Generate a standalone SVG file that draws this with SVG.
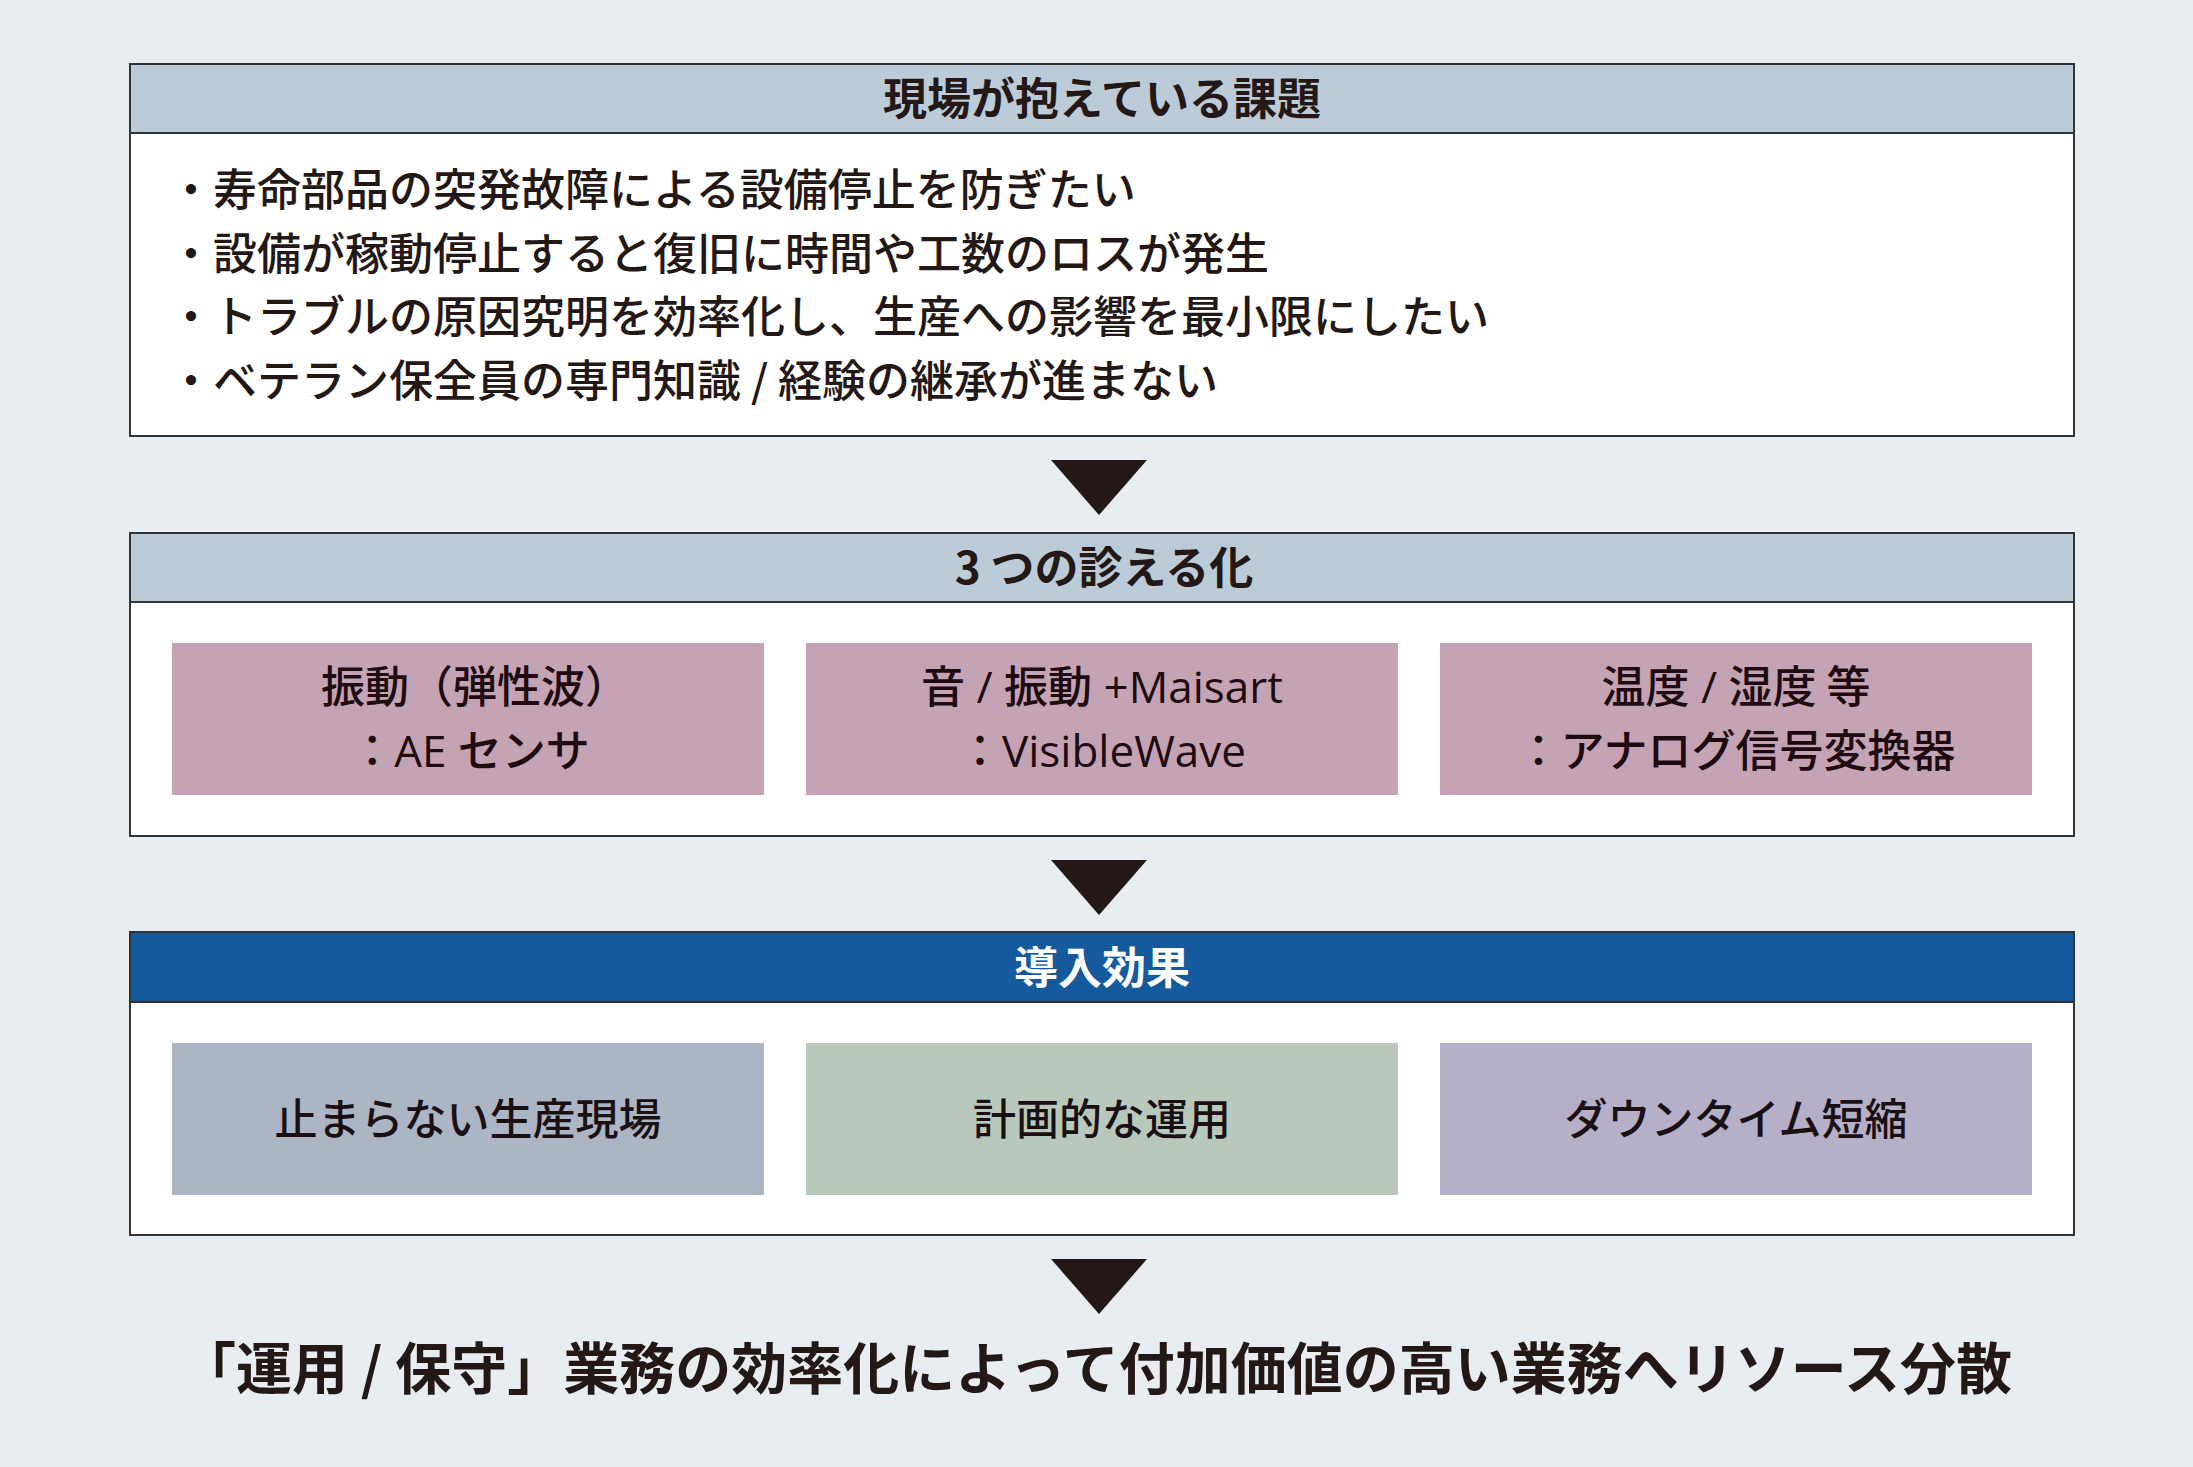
<svg xmlns="http://www.w3.org/2000/svg" width="2193" height="1467" viewBox="0 0 2193 1467">
<style>
.panel{fill:#ffffff;stroke:#333333;stroke-width:2}
.hdr{fill:#bccbd8;stroke:#333333;stroke-width:2}
.hdr2{fill:#155a9c;stroke:#333333;stroke-width:2}
.t{font-family:"Noto Sans CJK JP","Noto Sans",sans-serif;fill:#231815}
.h{font-size:44px;font-weight:700;text-anchor:middle}
.b{font-size:44px;font-weight:500}
.c{font-size:44px;font-weight:500;text-anchor:middle;fill:#1e0a10}
.lat{font-family:"Open Sans","Noto Sans",sans-serif;font-weight:500}
.e{font-size:43px;font-weight:500;text-anchor:middle;fill:#1a1014}
.pink{fill:#c4a4b4}
.arrow{fill:#231815}
</style>
<rect x="0" y="0" width="2193" height="1467" fill="#e8edf2"/>

<g id="node-issues">
<rect class="panel" x="130" y="64" width="1944" height="372"/>
<rect class="hdr" x="130" y="64" width="1944" height="69"/>
<text class="t h" x="1102" y="115">現場が抱えている課題</text>
<text class="t b" x="169" y="206">・寿命部品の突発故障による設備停止を防ぎたい</text>
<text class="t b" x="169" y="270">・設備が稼動停止すると復旧に時間や工数のロスが発生</text>
<text class="t b" x="169" y="333">・トラブルの原因究明を効率化し、生産への影響を最小限にしたい</text>
<text class="t b" x="169" y="397">・ベテラン保全員の専門知識 / 経験の継承が進まない</text>
</g>

<g id="node-visualize">
<rect class="panel" x="130" y="533" width="1944" height="303"/>
<rect class="hdr" x="130" y="533" width="1944" height="69"/>
<text class="t h" x="1104" y="584">3 つの診える化</text>
<g id="node-ae">
<rect class="pink" x="172" y="643" width="592" height="152"/>
<text class="t c" x="475" y="703">振動（弾性波）</text>
<text class="t c" x="470" y="767">：<tspan class="lat">AE </tspan>センサ</text>
</g>
<g id="node-visiblewave">
<rect class="pink" x="806" y="643" width="592" height="152"/>
<text class="t c" x="1102" y="703">音<tspan class="lat"> / </tspan>振動<tspan class="lat"> +Maisart</tspan></text>
<text class="t c" x="1102" y="767">：<tspan class="lat">VisibleWave</tspan></text>
</g>
<g id="node-analog">
<rect class="pink" x="1440" y="643" width="592" height="152"/>
<text class="t c" x="1736" y="703">温度<tspan class="lat"> / </tspan>湿度 等</text>
<text class="t c" x="1736" y="767">：アナログ信号変換器</text>
</g>
</g>

<g id="node-effects">
<rect class="panel" x="130" y="932" width="1944" height="303"/>
<rect class="hdr2" x="130" y="932" width="1944" height="70"/>
<text class="t h" x="1102" y="984" style="fill:#ffffff">導入効果</text>
<g id="node-effect1">
<rect x="172" y="1043" width="592" height="152" fill="#abb5c4"/>
<text class="t e" x="468" y="1135">止まらない生産現場</text>
</g>
<g id="node-effect2">
<rect x="806" y="1043" width="592" height="152" fill="#b8c9bc"/>
<text class="t e" x="1102" y="1135">計画的な運用</text>
</g>
<g id="node-effect3">
<rect x="1440" y="1043" width="592" height="152" fill="#b5b0c8"/>
<text class="t e" x="1736" y="1135">ダウンタイム短縮</text>
</g>
</g>

<g id="connectors">
<polygon class="arrow" points="1051,460 1147,460 1099,515"/>
<polygon class="arrow" points="1051,860 1147,860 1099,915"/>
<polygon class="arrow" points="1051,1259 1147,1259 1099,1314"/>
</g>

<g id="node-result">
<text class="t" x="1096" y="1389" style="font-size:56px;font-weight:700;text-anchor:middle">「運用 / 保守」業務の効率化によって付加価値の高い業務へリソース分散</text>
</g>
</svg>
